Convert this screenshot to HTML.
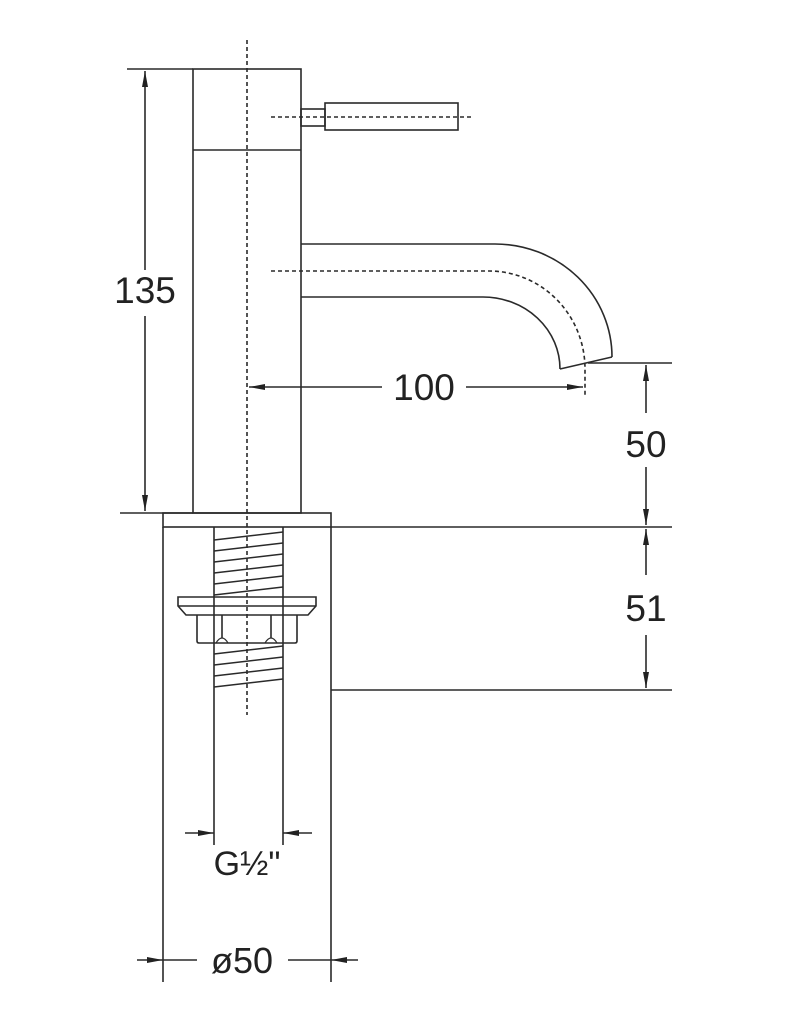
<!DOCTYPE html>
<html><head><style>body{margin:0;background:#fff}svg{display:block}text{font-family:"Liberation Sans",sans-serif;fill:#222}</style></head>
<body>
<svg width="788" height="1024" viewBox="0 0 788 1024" xmlns="http://www.w3.org/2000/svg">
<defs>
<marker id="a" viewBox="0 0 16 8" refX="16" refY="4" markerWidth="16" markerHeight="8" markerUnits="userSpaceOnUse" orient="auto-start-reverse"><path d="M0,1 L16,4 L0,7 z" fill="#222"/></marker>
</defs>
<g stroke="#2a2a2a" stroke-width="1.6" fill="none">
<rect x="193" y="69" width="108" height="444"/>
<line x1="193" y1="150" x2="301" y2="150"/>
<line x1="127" y1="69" x2="193" y2="69"/>
<line x1="120" y1="513" x2="193" y2="513"/>
<rect x="301" y="109" width="24" height="17"/>
<rect x="325" y="103" width="133" height="27"/>
<path d="M301,244 H495 A117,113 0 0 1 612,357"/>
<path d="M301,297 H483 A77,72 0 0 1 560,369"/>
<line x1="560" y1="369" x2="612" y2="357"/>
<rect x="163" y="513" width="168" height="14"/>
<line x1="331" y1="527" x2="672" y2="527"/>
<line x1="331" y1="690" x2="672" y2="690"/>
<line x1="588" y1="363" x2="672" y2="363"/>
<line x1="163" y1="527" x2="163" y2="982"/>
<line x1="331" y1="527" x2="331" y2="982"/>
<line x1="214" y1="527" x2="214" y2="845"/>
<line x1="283" y1="527" x2="283" y2="845"/>
<path d="M214,540 L283,532 M214,551 L283,543 M214,562 L283,554 M214,573 L283,565 M214,584 L283,576 M214,595 L283,587 M214,654 L283,646 M214,665 L283,657 M214,676 L283,668 M214,687 L283,679" stroke-width="1.4"/>
<path d="M178,597 H316 V606 L308,615 H186 L178,606 Z"/>
<line x1="178" y1="606" x2="316" y2="606"/>
<path d="M197,615 V641 Q197,643 199,643 H295 Q297,643 297,641 V615"/>
<line x1="222" y1="615" x2="222" y2="638"/>
<line x1="271" y1="615" x2="271" y2="638"/>
<path d="M216,643 Q222,633 228,643 M265,643 Q271,633 277,643" stroke-width="1.2"/>
</g>
<g stroke="#2a2a2a" stroke-width="1.6" fill="none" stroke-dasharray="4,3">
<line x1="247" y1="40" x2="247" y2="715"/>
<line x1="271" y1="117" x2="474" y2="117"/>
<path d="M271,271 H489 A96,98 0 0 1 585,369 V395"/>
</g>
<g stroke="#2a2a2a" stroke-width="1.6" fill="none">
<line x1="145" y1="71" x2="145" y2="270" marker-start="url(#a)"/>
<line x1="145" y1="316" x2="145" y2="511" marker-end="url(#a)"/>
<line x1="249" y1="387" x2="382" y2="387" marker-start="url(#a)"/>
<line x1="466" y1="387" x2="583" y2="387" marker-end="url(#a)"/>
<line x1="646" y1="365" x2="646" y2="413" marker-start="url(#a)"/>
<line x1="646" y1="467" x2="646" y2="525" marker-end="url(#a)"/>
<line x1="646" y1="529" x2="646" y2="575" marker-start="url(#a)"/>
<line x1="646" y1="635" x2="646" y2="688" marker-end="url(#a)"/>
<line x1="185" y1="833" x2="214" y2="833" marker-end="url(#a)"/>
<line x1="312" y1="833" x2="283" y2="833" marker-end="url(#a)"/>
<line x1="137" y1="960" x2="163" y2="960" marker-end="url(#a)"/>
<line x1="163" y1="960" x2="197" y2="960"/>
<line x1="288" y1="960" x2="331" y2="960"/>
<line x1="358" y1="960" x2="331" y2="960" marker-end="url(#a)"/>
</g>
<g font-size="37" text-anchor="middle">
<text x="145" y="303">135</text>
<text x="424" y="400">100</text>
<text x="646" y="457">50</text>
<text x="646" y="621">51</text>
<text x="247" y="875" font-size="34">G½"</text>
<text x="242" y="973" font-size="36">ø50</text>
</g>
</svg>
</body></html>
